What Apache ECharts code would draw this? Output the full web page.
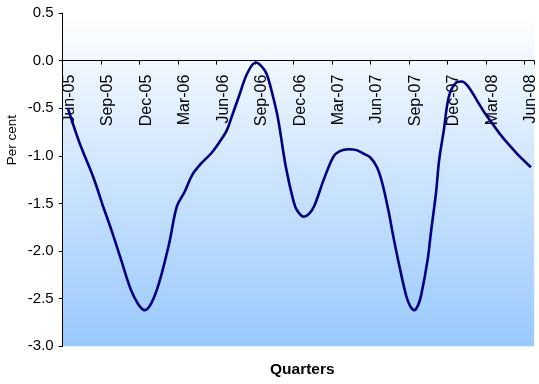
<!DOCTYPE html>
<html>
<head>
<meta charset="utf-8">
<script src="https://cdn.jsdelivr.net/npm/echarts@6/dist/echarts.min.js"></script>
<style>
  html, body { margin: 0; padding: 0; background: #ffffff; }
  #chart { width: 539px; height: 384px; }
</style>
</head>
<body>
<div id="chart"></div>
<script>
// Quarter labels, one every three months starting at Jun-05
const quarterLabels = ['Jun-05', 'Sep-05', 'Dec-05', 'Mar-06', 'Jun-06', 'Sep-06', 'Dec-06',
  'Mar-07', 'Jun-07', 'Sep-07', 'Dec-07', 'Mar-08', 'Jun-08'];

// Months elapsed since Jun-05 for each observation
const months = [0.4, 1.3, 2.4, 3.2, 3.8, 4.55, 5.3, 5.9, 6.4, 6.9, 7.5, 8.3, 8.9, 9.5,
  10.1, 10.8, 11.6, 12.2, 12.8, 13.2, 13.7, 14.4, 15.05, 15.5, 15.9, 16.4, 16.8, 17.4,
  18.0, 18.3, 18.8, 19.2, 19.6, 20.35, 21.1, 21.6, 22.3, 22.9, 23.5, 24.0, 24.5, 24.9,
  25.4, 25.75, 26.25, 26.8, 27.1, 27.4, 27.7, 27.95, 28.45, 28.7, 29.1, 29.35, 29.7,
  30.1, 30.6, 31.1, 31.6, 32.3, 32.9, 33.6, 34.2, 34.9, 35.5, 36.5];

// Per cent values
const percent = [-0.50, -0.86, -1.23, -1.55, -1.78, -2.09, -2.40, -2.56, -2.62, -2.55, -2.34,
  -1.92, -1.53, -1.38, -1.20, -1.08, -0.97, -0.86, -0.73, -0.58, -0.39, -0.13, -0.02, -0.06,
  -0.14, -0.38, -0.62, -1.12, -1.48, -1.58, -1.64, -1.61, -1.53, -1.25, -1.01, -0.95, -0.93,
  -0.94, -0.98, -1.02, -1.12, -1.28, -1.58, -1.83, -2.16, -2.48, -2.58, -2.62, -2.57, -2.46,
  -2.09, -1.81, -1.39, -1.04, -0.74, -0.38, -0.24, -0.22, -0.27, -0.42, -0.55, -0.68, -0.79,
  -0.90, -0.99, -1.12];

const yMin = -3, yMax = 0.5;
const gridTop = 13, gridBottom = 37.7, chartHeight = 384;
// Distance from the top of the plot down to the zero line
const zeroOffset = (chartHeight - gridTop - gridBottom) * (yMax - 0) / (yMax - yMin);

const font = 'Liberation Sans, Arial, sans-serif';
const chart = echarts.init(document.getElementById('chart'), null, { renderer: 'canvas' });

chart.setOption({
  animation: false,
  grid: {
    left: 62.7, right: 0, top: gridTop, bottom: gridBottom,
    show: true,
    borderWidth: 0,
    backgroundColor: new echarts.graphic.LinearGradient(0, 0, 0, 1, [
      { offset: 0, color: '#ffffff' },
      { offset: 1, color: '#99c9fd' }
    ])
  },
  xAxis: {
    type: 'value',
    position: 'top',
    offset: -zeroOffset,
    min: 0,
    max: 36.75,
    interval: 3,
    axisLine: { onZero: false, lineStyle: { color: '#000000', width: 1 } },
    axisTick: { show: true, inside: true, length: 4, lineStyle: { color: '#000000' } },
    splitLine: { show: false },
    axisLabel: {
      inside: true,
      rotate: -90,
      margin: 14,
      verticalAlign: 'top',
      lineHeight: 13,
      color: '#000000',
      fontFamily: font,
      fontSize: 16,
      formatter: function (v) {
        const i = Math.round(v / 3);
        return (Math.abs(v - i * 3) < 1e-6 && quarterLabels[i]) ? quarterLabels[i] : '';
      }
    }
  },
  yAxis: {
    type: 'value',
    min: yMin,
    max: yMax,
    interval: 0.5,
    axisLine: { show: true, onZero: false, lineStyle: { color: '#000000', width: 1 } },
    axisTick: { show: true, length: 4, lineStyle: { color: '#000000' } },
    splitLine: { show: false },
    axisLabel: {
      margin: 9,
      color: '#000000',
      fontFamily: font,
      fontSize: 15,
      formatter: function (v) { return v.toFixed(1); }
    }
  },
  graphic: [
    {
      type: 'text',
      left: 5.5, top: 115,
      rotation: Math.PI / 2,
      style: { text: 'Per cent', fontFamily: font, fontSize: 13.5, fill: '#000000' }
    },
    {
      type: 'text',
      left: 270, top: 362,
      style: { text: 'Quarters', fontFamily: font, fontSize: 15.5, fontWeight: 'bold', fill: '#000000' }
    }
  ],
  series: [{
    type: 'line',
    data: months.map((m, i) => [m, percent[i]]),
    smooth: 0.35,
    showSymbol: false,
    lineStyle: { color: '#000080', width: 2.6 }
  }]
});
</script>
</body>
</html>
